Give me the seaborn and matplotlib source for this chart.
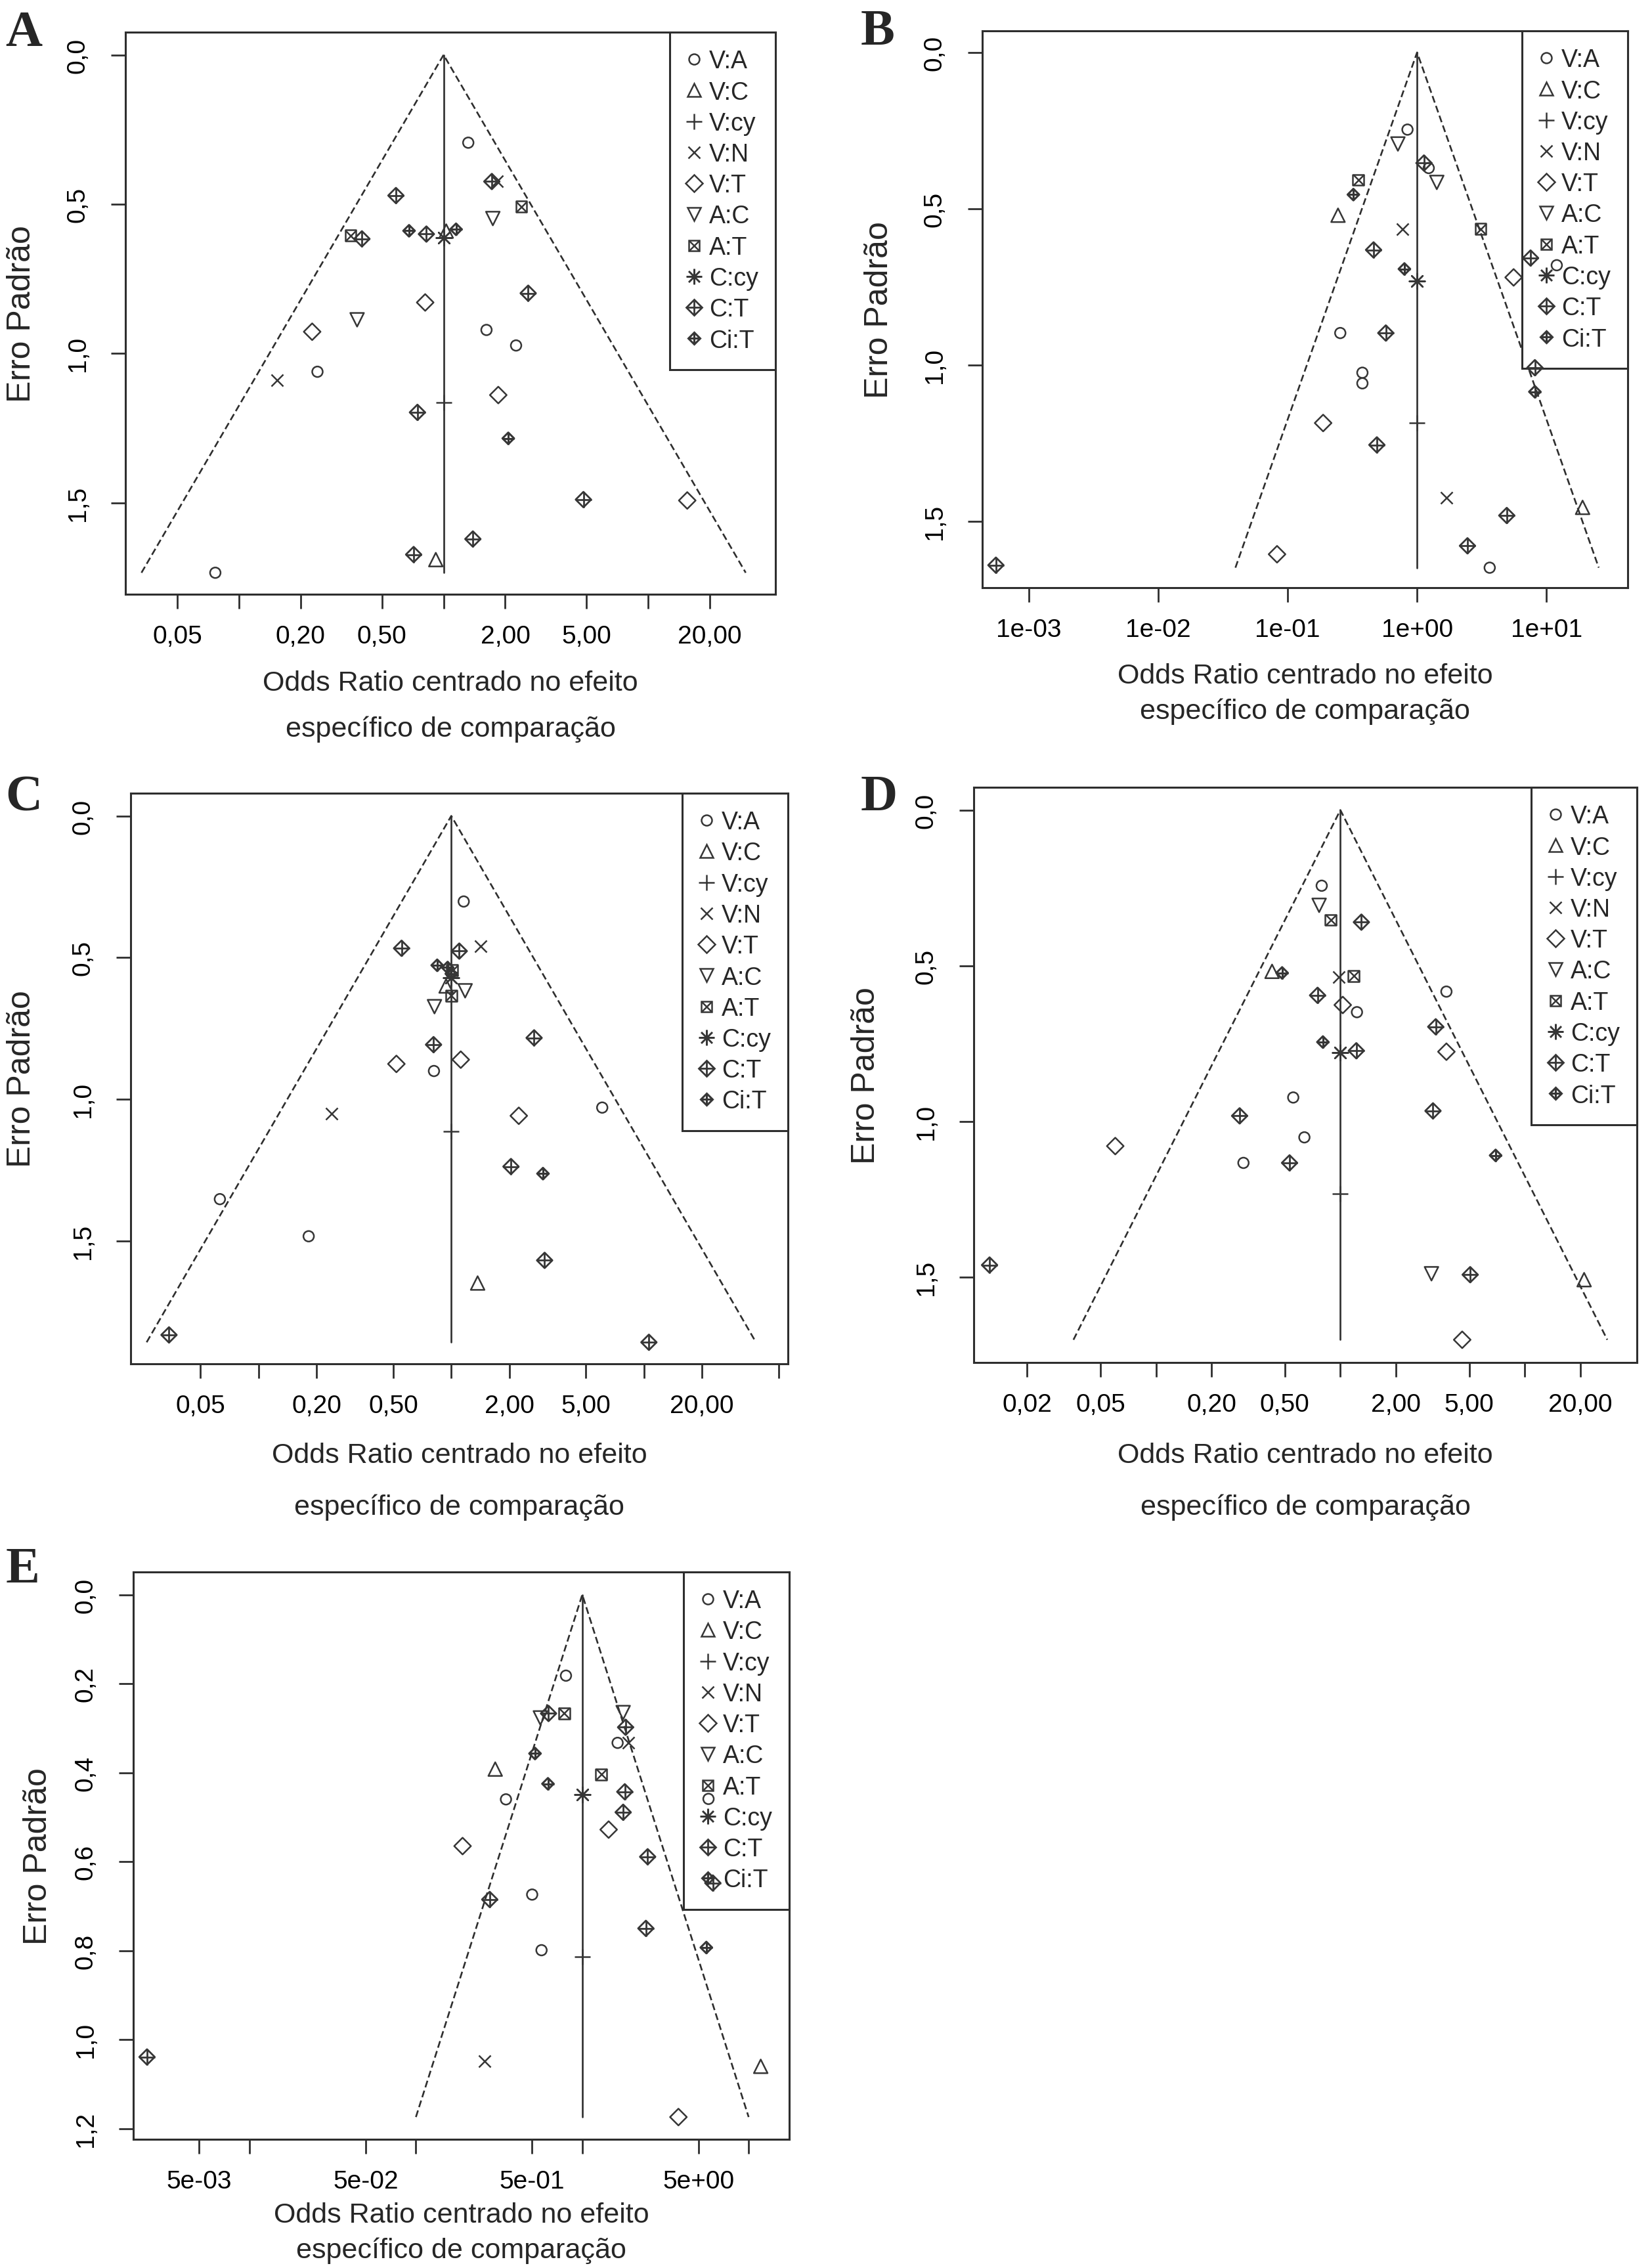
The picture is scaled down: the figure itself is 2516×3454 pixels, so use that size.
import numpy as np
import pandas as pd
import matplotlib
matplotlib.use("Agg")
import matplotlib.pyplot as plt
import seaborn as sns
from matplotlib.lines import Line2D
from matplotlib.markers import MarkerStyle
from matplotlib.legend_handler import HandlerTuple
from matplotlib.ticker import NullLocator

sns.set_theme(style="white")
plt.rcParams["font.family"] = ["Liberation Sans", "DejaVu Sans"]

GRUPOS = ["V:A", "V:C", "V:cy", "V:N", "V:T", "A:C", "A:T", "C:cy", "C:T", "Ci:T"]

def rep(counts):
    out = []
    for g, n in zip(GRUPOS, counts):
        out += [g] * n
    return out

# ---------------- Panel A ----------------
A_grupo = rep([5, 2, 1, 2, 4, 2, 2, 1, 9, 3])
A_or = [1.32, 1.62, 2.26, 0.242, 0.0767,
        0.916, 1.03,
        1.0,
        0.154, 1.82,
        0.813, 0.228, 1.85, 15.5,
        1.74, 0.378,
        2.40, 0.351,
        1.0,
        0.585, 1.72, 0.399, 0.824, 2.59, 0.745, 4.82, 1.39, 0.714,
        0.678, 1.15, 2.07]
A_ep = [0.294, 0.921, 0.973, 1.061, 1.734,
        1.690, 0.59,
        1.165,
        1.089, 0.424,
        0.829, 0.927, 1.139, 1.492,
        0.548, 0.887,
        0.508, 0.605,
        0.613,
        0.471, 0.424, 0.616, 0.600, 0.798, 1.197, 1.489, 1.621, 1.673,
        0.589, 0.584, 1.284]

# ---------------- Panel B ----------------
B_grupo = rep([7, 2, 1, 2, 3, 2, 2, 1, 9, 3])
B_or = [0.843, 1.23, 0.255, 0.378, 0.378, 3.64, 12.0,
        0.245, 19.0,
        1.0,
        0.774, 1.68,
        5.57, 0.188, 0.0828,
        0.711, 1.42,
        0.351, 3.10,
        1.0,
        0.461, 0.573, 1.13, 7.53, 8.13, 0.489, 4.93, 2.45, 0.000557,
        0.322, 0.798, 8.13]
B_ep = [0.247, 0.370, 0.898, 1.025, 1.059, 1.649, 0.681,
        0.521, 1.456,
        1.186,
        0.565, 1.425,
        0.720, 1.186, 1.606,
        0.293, 0.416,
        0.408, 0.565,
        0.732,
        0.632, 0.898, 0.354, 0.658, 1.009, 1.256, 1.482, 1.579, 1.641,
        0.455, 0.693, 1.086]

# ---------------- Panel C ----------------
C_grupo = rep([5, 2, 1, 2, 3, 2, 2, 1, 8, 4])
C_or = [1.16, 0.813, 6.07, 0.0630, 0.182,
        1.37, 0.94,
        1.0,
        1.42, 0.239,
        0.519, 1.12, 2.24,
        0.818, 1.18,
        1.0, 1.01,
        1.0,
        0.552, 1.10, 0.809, 2.69, 2.04, 3.05, 0.0343, 10.6,
        2.99, 0.845, 0.957, 1.0]
C_ep = [0.302, 0.900, 1.029, 1.352, 1.483,
        1.648, 0.600,
        1.113,
        0.459, 1.050,
        0.875, 0.860, 1.058,
        0.673, 0.617,
        0.634, 0.545,
        0.570,
        0.467, 0.477, 0.807, 0.783, 1.237, 1.568, 1.831, 1.857,
        1.262, 0.527, 0.535, 0.557]

# ---------------- Panel D ----------------
D_grupo = rep([6, 2, 1, 1, 4, 2, 2, 1, 9, 3])
D_or = [0.792, 1.23, 3.76, 0.555, 0.638, 0.298,
        0.426, 21.0,
        1.0,
        0.98,
        1.03, 3.76, 0.0601, 4.58,
        0.767, 3.12,
        0.887, 1.18,
        1.0,
        1.30, 0.752, 3.29, 1.22, 0.284, 0.530, 3.18, 5.06, 0.0125,
        0.483, 0.804, 6.95]
D_ep = [0.243, 0.649, 0.583, 0.923, 1.051, 1.133,
        0.518, 1.508,
        1.232,
        0.537,
        0.626, 0.776, 1.079, 1.701,
        0.306, 1.489,
        0.353, 0.533,
        0.778,
        0.360, 0.595, 0.696, 0.773, 0.982, 1.133, 0.966, 1.492, 1.461,
        0.523, 0.745, 1.109]

# ---------------- Panel E ----------------
E_grupo = rep([6, 2, 1, 2, 3, 2, 2, 1, 9, 3])
E_or = [0.798, 1.63, 0.348, 0.500, 0.569, 5.73,
        0.300, 11.8,
        1.0,
        0.258, 1.90,
        0.191, 1.44, 3.78,
        0.560, 1.76,
        0.780, 1.30,
        1.0,
        0.627, 1.82, 1.80, 1.76, 2.47, 0.278, 2.41, 0.00243, 6.08,
        0.520, 0.622, 5.56]
E_ep = [0.182, 0.333, 0.460, 0.674, 0.799, 0.459,
        0.392, 1.060,
        0.814,
        1.048, 0.333,
        0.565, 0.528, 1.174,
        0.277, 0.265,
        0.267, 0.404,
        0.449,
        0.267, 0.298, 0.443, 0.489, 0.589, 0.685, 0.750, 1.039, 0.648,
        0.357, 0.425, 0.793]

# ---------------- ticks ----------------
A_xticks = [0.05, 0.1, 0.2, 0.5, 1, 2, 5, 10, 20]
A_xlabels = ["0,05", "", "0,20", "0,50", "", "2,00", "5,00", "", "20,00"]
B_xticks = [1e-3, 1e-2, 1e-1, 1, 10]
B_xlabels = ["1e-03", "1e-02", "1e-01", "1e+00", "1e+01"]
C_xticks = [0.05, 0.1, 0.2, 0.5, 1, 2, 5, 10, 20, 50]
C_xlabels = ["0,05", "", "0,20", "0,50", "", "2,00", "5,00", "", "20,00", ""]
D_xticks = [0.02, 0.05, 0.1, 0.2, 0.5, 1, 2, 5, 10, 20]
D_xlabels = ["0,02", "0,05", "", "0,20", "0,50", "", "2,00", "5,00", "", "20,00"]
E_xticks = [5e-3, 1e-2, 5e-2, 1e-1, 5e-1, 1, 5, 10]
E_xlabels = ["5e-03", "", "5e-02", "", "5e-01", "", "5e+00", ""]
Y_ticks = [0.0, 0.5, 1.0, 1.5]
Y_labels = ["0,0", "0,5", "1,0", "1,5"]
E_yticks = [0.0, 0.2, 0.4, 0.6, 0.8, 1.0, 1.2]
E_ylabels = ["0,0", "0,2", "0,4", "0,6", "0,8", "1,0", "1,2"]

XLAB1 = "Odds Ratio centrado no efeito"
XLAB2 = "específico de comparação"
YLAB = "Erro Padrão"

# ---------------- styles ----------------
MCOL = "#363636"
LCOL = "#2e2e2e"
LW = 1.8
STY = {
    "V:A": [("o", 11.5, LW)],
    "V:C": [("^", 15, LW)],
    "V:cy": [("+", 17, LW)],
    "V:N": [("x", 13, LW)],
    "V:T": [("D", 13, LW)],
    "A:C": [("v", 15, LW)],
    "A:T": [("s", 12, LW), ("x", 12, LW)],
    "C:cy": [((8, 2, 0), 17, LW)],
    "C:T": [("D", 12, 2.0), ("+", 17, 2.0)],
    "Ci:T": [("D", 9, 2.2), ("+", 13, 2.2)],
}

W, H = 2516, 3455
fig = plt.figure(figsize=(W / 100, H / 100), dpi=100)

def fx(px):
    return px / W

def fy(py):
    return 1 - py / H

panels = [
    dict(name="A", g=A_grupo, x=A_or, y=A_ep, box=(191, 50, 1181, 906),
         xlim=(0.0279, 41.8), ylim=(1.806, -0.076), xt=A_xticks, xl=A_xlabels,
         yt=Y_ticks, yl=Y_labels, letter=(36, 51), ylab=(33, 478), xlab=(1041, 1111)),
    dict(name="B", g=B_grupo, x=B_or, y=B_ep, box=(1496, 48, 2479, 896),
         xlim=(4.37e-4, 42.4), ylim=(1.713, -0.069), xt=B_xticks, xl=B_xlabels,
         yt=Y_ticks, yl=Y_labels, letter=(1337, 50), ylab=(1339, 472), xlab=(1030, 1084)),
    dict(name="C", g=C_grupo, x=C_or, y=C_ep, box=(199, 1209, 1200, 2078),
         xlim=(0.0217, 55.8), ylim=(1.933, -0.080), xt=C_xticks, xl=C_xlabels,
         yt=Y_ticks, yl=Y_labels, letter=(36, 1216), ylab=(33, 1643), xlab=(2217, 2296)),
    dict(name="D", g=D_grupo, x=D_or, y=D_ep, box=(1483, 1200, 2493, 2076),
         xlim=(0.01026, 40.6), ylim=(1.774, -0.073), xt=D_xticks, xl=D_xlabels,
         yt=Y_ticks, yl=Y_labels, letter=(1339, 1216), ylab=(1319, 1638), xlab=(2217, 2296)),
    dict(name="E", g=E_grupo, x=E_or, y=E_ep, box=(203, 2395, 1202, 3259),
         xlim=(0.00201, 17.5), ylim=(1.224, -0.051), xt=E_xticks, xl=E_xlabels,
         yt=E_yticks, yl=E_ylabels, letter=(35, 2392), ylab=(58, 2827), xlab=(3374, 3428)),
]


def draw_layer(ax, d, marker, size, lw):
    ms = MarkerStyle(marker)
    if ms.is_filled():
        sns.scatterplot(data=d, x="OR", y="EP", ax=ax, marker=marker, s=size ** 2,
                        color=MCOL, facecolor="none", edgecolor=MCOL, linewidth=lw,
                        legend=False, zorder=3)
    else:
        sns.scatterplot(data=d, x="OR", y="EP", ax=ax, marker=marker, s=size ** 2,
                        color=MCOL, linewidth=lw, legend=False, zorder=3)


for p in panels:
    l, t, r, b = p["box"]
    ax = fig.add_axes([fx(l), fy(b), fx(r) - fx(l), (b - t) / H])
    df = pd.DataFrame({"grupo": p["g"], "OR": p["x"], "EP": p["y"]})
    ax.set_xscale("log")

    se_max = df["EP"].max()
    lo, hi = np.exp(-1.96 * se_max), np.exp(1.96 * se_max)
    ax.plot([lo, 1, hi], [se_max, 0, se_max], color=LCOL, lw=1.9,
            linestyle=(0, (4, 2)), zorder=2)
    ax.plot([1, 1], [0, se_max], color=LCOL, lw=1.9, zorder=2)

    for g in GRUPOS:
        sub = df[df["grupo"] == g]
        if len(sub) == 0:
            continue
        for marker, size, lw in STY[g]:
            draw_layer(ax, sub, marker, size, lw)

    ax.set_xlim(*p["xlim"])
    ax.set_ylim(*p["ylim"])
    ax.set_xticks(p["xt"])
    ax.set_xticklabels(p["xl"])
    ax.xaxis.set_minor_locator(NullLocator())
    ax.set_yticks(p["yt"])
    ax.set_yticklabels(p["yl"])
    ax.set_xlabel("")
    ax.set_ylabel("")
    ax.tick_params(axis="both", which="major", bottom=True, left=True, direction="out",
                   length=16, width=2, color=LCOL, labelsize=28, labelcolor="black")
    ax.tick_params(axis="x", pad=17)
    ax.tick_params(axis="y", pad=36, labelrotation=90)
    for lab in ax.get_yticklabels():
        lab.set_ha("center")
        lab.set_va("center")
    for sp in ax.spines.values():
        sp.set_visible(True)
        sp.set_color(LCOL)
        sp.set_linewidth(2.2)

    handles = []
    for g in GRUPOS:
        hs = []
        for marker, size, lw in STY[g]:
            hs.append(Line2D([], [], linestyle="None", marker=marker, markersize=size,
                             markerfacecolor="none", markeredgecolor=MCOL,
                             markeredgewidth=lw, color=MCOL))
        handles.append(tuple(hs))
    leg = ax.legend(handles, GRUPOS, loc="upper right", bbox_to_anchor=(1, 1),
                    borderaxespad=0, fontsize=27, handlelength=0.6, handletextpad=0.3,
                    labelspacing=0.30, borderpad=0.7, frameon=True, fancybox=False,
                    framealpha=1, handler_map={tuple: HandlerTuple(ndivide=1, pad=0)})
    leg.get_frame().set_edgecolor(LCOL)
    leg.get_frame().set_linewidth(2.2)
    leg.set_zorder(2.5)

    cx = fx((l + r) / 2)
    fig.text(cx, fy(p["xlab"][0]), XLAB1, ha="center", va="center", fontsize=31)
    fig.text(cx, fy(p["xlab"][1]), XLAB2, ha="center", va="center", fontsize=31)
    fig.text(fx(p["ylab"][0]), fy(p["ylab"][1]), YLAB, rotation=90, ha="center",
             va="center", fontsize=36)
    fig.text(fx(p["letter"][0]), fy(p["letter"][1]), p["name"], ha="center", va="center",
             fontsize=56, fontweight="bold", family=["Liberation Serif", "DejaVu Serif"])

fig.savefig("out.png", dpi=100, facecolor="white")
